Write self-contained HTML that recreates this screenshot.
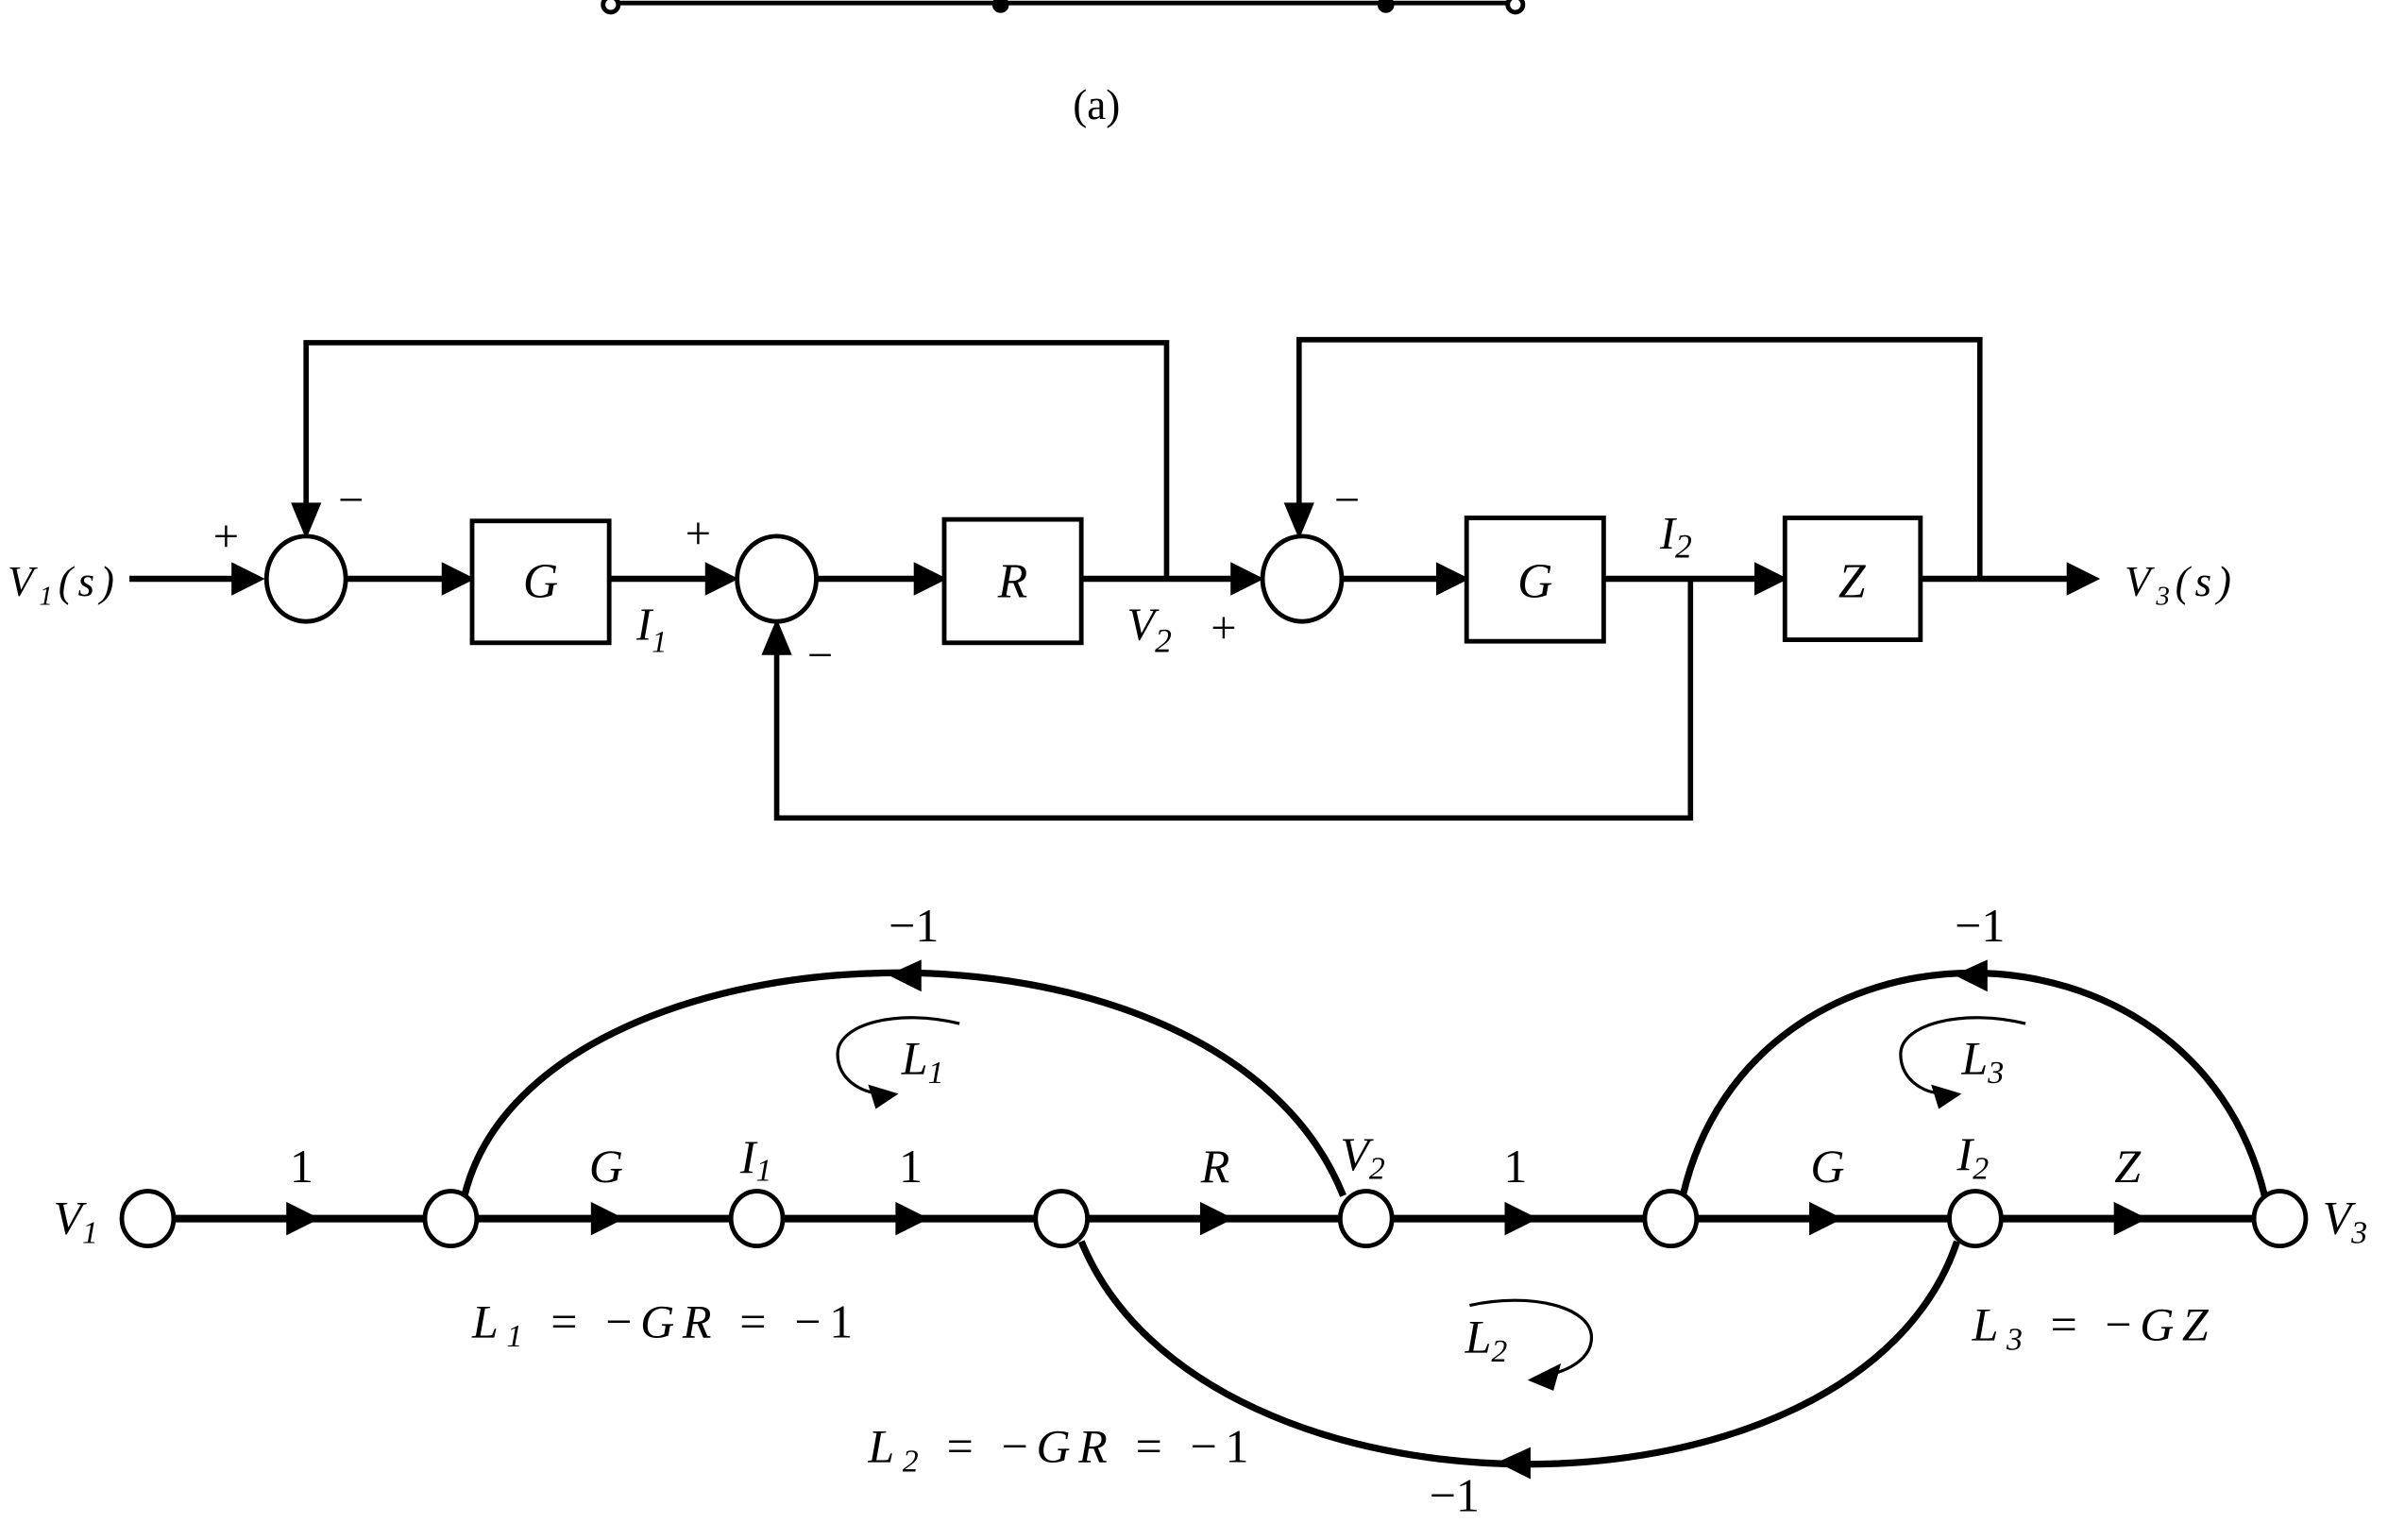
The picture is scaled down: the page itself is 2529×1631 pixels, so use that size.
<!DOCTYPE html>
<html><head><meta charset="utf-8"><style>
html,body{margin:0;padding:0;background:#fff;}
svg{display:block}
text{font-family:"Liberation Serif",serif;fill:#000;}
.i{font-style:italic}
</style></head><body>
<svg width="2529" height="1631" viewBox="0 0 1568 1011" preserveAspectRatio="none" xmlns="http://www.w3.org/2000/svg">
<!-- top fragment -->
<g stroke="#000" stroke-width="3" fill="#fff">
<line x1="400" y1="2" x2="995" y2="2"/>
<circle cx="401" cy="3" r="5"/><circle cx="995" cy="3" r="5"/>
<circle cx="657" cy="3" r="4" fill="#000"/><circle cx="910" cy="3" r="4" fill="#000"/>
</g>
<text x="720" y="78" font-size="28" text-anchor="middle">(a)</text>

<!-- block diagram -->
<g stroke="#000" stroke-width="4" fill="none">
<line x1="85" y1="380" x2="155" y2="380"/>
<line x1="228" y1="380" x2="293" y2="380"/>
<line x1="400" y1="380" x2="466" y2="380"/>
<line x1="537" y1="380" x2="603" y2="380"/>
<line x1="710" y1="380" x2="811" y2="380"/>
<line x1="882" y1="380" x2="946" y2="380"/>
<line x1="1053" y1="380" x2="1155" y2="380"/>
<line x1="1261" y1="380" x2="1360" y2="380"/>
<polyline points="766,380 766,225 201,225 201,335" stroke-width="3.5"/>
<polyline points="1300,380 1300,223 853,223 853,335" stroke-width="3.5"/>
<polyline points="1110,380 1110,537 510,537 510,425" stroke-width="3.5"/>
</g>
<g fill="#000">
<path d="M152,369 L174,380 L152,391z"/>
<path d="M290,369 L312,380 L290,391z"/>
<path d="M463,369 L485,380 L463,391z"/>
<path d="M600,369 L622,380 L600,391z"/>
<path d="M808,369 L830,380 L808,391z"/>
<path d="M943,369 L965,380 L943,391z"/>
<path d="M1152,369 L1174,380 L1152,391z"/>
<path d="M1357,369 L1379,380 L1357,391z"/>
<path d="M191,330 L201,354 L211,330z"/>
<path d="M843,330 L853,354 L863,330z"/>
<path d="M500,430 L510,406 L520,430z"/>
</g>
<g stroke="#000" stroke-width="3" fill="#fff">
<ellipse cx="201" cy="380" rx="26" ry="28"/>
<ellipse cx="510" cy="380" rx="26" ry="28"/>
<ellipse cx="855" cy="380" rx="26" ry="28"/>
<rect x="310" y="342" width="90" height="80"/>
<rect x="620" y="341" width="90" height="81"/>
<rect x="963" y="340" width="90" height="81"/>
<rect x="1172" y="340" width="89" height="80"/>
</g>
<g font-size="32">
<text x="355" y="392" text-anchor="middle" class="i">G</text>
<text x="665" y="392" text-anchor="middle" class="i">R</text>
<text x="1008" y="392" text-anchor="middle" class="i">G</text>
<text x="1216" y="392" text-anchor="middle" class="i">Z</text>
<text x="5" y="391" font-size="28" class="i" textLength="70" lengthAdjust="spacing">V<tspan font-size="18" dy="6">1</tspan><tspan dy="-6">(s)</tspan></text>
<text x="1395" y="391" font-size="28" class="i" textLength="70" lengthAdjust="spacing">V<tspan font-size="18" dy="6">3</tspan><tspan dy="-6">(s)</tspan></text>
<text x="418" y="420" font-size="30" class="i">I<tspan font-size="20" dy="8">1</tspan></text>
<text x="740" y="420" font-size="30" class="i">V<tspan font-size="22" dy="8">2</tspan></text>
<text x="1090" y="360" font-size="30" class="i">I<tspan font-size="22" dy="6">2</tspan></text>
</g>
<g font-size="30">
<text x="140" y="362">+</text>
<text x="222" y="338">−</text>
<text x="450" y="360">+</text>
<text x="530" y="440">−</text>
<text x="795" y="422">+</text>
<text x="876" y="338">−</text>
</g>

<!-- signal flow graph -->
<g stroke="#000" stroke-width="5" fill="none">
<line x1="97" y1="800" x2="1497" y2="800"/>
<path d="M305,785 C350,600 800,580 882,785" stroke-width="4.5"/>
<path d="M1105,785 C1150,590 1440,590 1487,785" stroke-width="4.5"/>
<path d="M710,815 C790,1010 1220,1010 1285,815" stroke-width="4.5"/>
</g>
<g fill="#000">
<path d="M188,789 L210,800 L188,811z"/>
<path d="M388,789 L410,800 L388,811z"/>
<path d="M588,789 L610,800 L588,811z"/>
<path d="M788,789 L810,800 L788,811z"/>
<path d="M988,789 L1010,800 L988,811z"/>
<path d="M1188,789 L1210,800 L1188,811z"/>
<path d="M1388,789 L1410,800 L1388,811z"/>
<path d="M605,630 L583,640 L605,651z"/>
<path d="M1305,630 L1283,640 L1305,651z"/>
<path d="M1005,950 L983,960 L1005,971z"/>
</g>
<g stroke="#000" stroke-width="3" fill="#fff">
<ellipse cx="97" cy="800" rx="17" ry="18"/>
<ellipse cx="296" cy="800" rx="17" ry="18"/>
<ellipse cx="497" cy="800" rx="17" ry="18"/>
<ellipse cx="697" cy="800" rx="17" ry="18"/>
<ellipse cx="897" cy="800" rx="17" ry="18"/>
<ellipse cx="1097" cy="800" rx="17" ry="18"/>
<ellipse cx="1297" cy="800" rx="17" ry="18"/>
<ellipse cx="1497" cy="800" rx="17" ry="18"/>
</g>
<!-- loop markers -->
<g stroke="#000" stroke-width="2" fill="none">
<path d="M630,672 C590,662 550,672 550,692 C550,708 565,718 580,718"/>
<path d="M1330,672 C1290,662 1248,672 1248,692 C1248,708 1262,718 1277,718"/>
<path d="M965,857 C1005,848 1045,858 1045,878 C1045,892 1030,900 1015,903"/>
</g>
<g fill="#000">
<path d="M570,712 L590,718 L575,728z"/>
<path d="M1268,712 L1288,718 L1273,728z"/>
<path d="M1025,895 L1003,906 L1020,913z"/>
</g>
<g font-size="31">
<text x="198" y="776" text-anchor="middle">1</text>
<text x="398" y="776" text-anchor="middle" class="i">G</text>
<text x="486" y="770" class="i">I<tspan font-size="21" dy="5">1</tspan></text>
<text x="598" y="776" text-anchor="middle">1</text>
<text x="798" y="776" text-anchor="middle" class="i">R</text>
<text x="880" y="768" class="i">V<tspan font-size="21" dy="6">2</tspan></text>
<text x="995" y="776" text-anchor="middle">1</text>
<text x="1200" y="776" text-anchor="middle" class="i">G</text>
<text x="1285" y="768" class="i">I<tspan font-size="21" dy="6">2</tspan></text>
<text x="1397" y="776" text-anchor="middle" class="i">Z</text>
<text x="35" y="810" class="i">V<tspan font-size="21" dy="6">1</tspan></text>
<text x="1525" y="810" class="i">V<tspan font-size="21" dy="6">3</tspan></text>
<text x="600" y="618" text-anchor="middle">−1</text>
<text x="1300" y="618" text-anchor="middle">−1</text>
<text x="955" y="992" text-anchor="middle">−1</text>
<text x="592" y="705" class="i">L<tspan font-size="21" dy="6">1</tspan></text>
<text x="1288" y="705" class="i">L<tspan font-size="21" dy="6">3</tspan></text>
<text x="962" y="888" class="i">L<tspan font-size="21" dy="6">2</tspan></text>
<text x="310" y="878" class="i" textLength="250" lengthAdjust="spacing">L<tspan font-size="21" dy="6">1</tspan><tspan dy="-6" font-style="normal"> = −</tspan>GR<tspan font-style="normal"> = −1</tspan></text>
<text x="570" y="960" class="i" textLength="250" lengthAdjust="spacing">L<tspan font-size="21" dy="6">2</tspan><tspan dy="-6" font-style="normal"> = −</tspan>GR<tspan font-style="normal"> = −1</tspan></text>
<text x="1295" y="880" class="i" textLength="155" lengthAdjust="spacing">L<tspan font-size="21" dy="6">3</tspan><tspan dy="-6" font-style="normal"> = −</tspan>GZ</text>
</g>
</svg>
</body></html>
